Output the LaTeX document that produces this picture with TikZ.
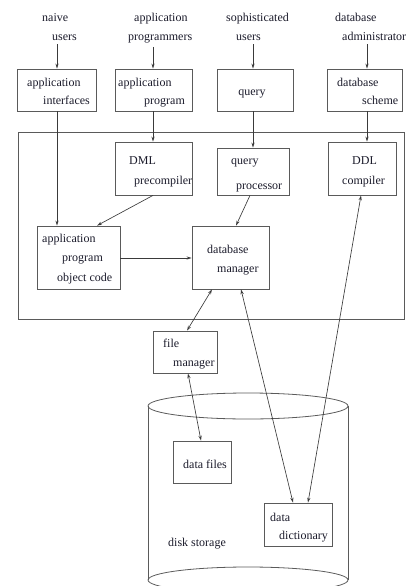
\documentclass[tikz,border=0pt]{standalone}
\usepackage{fontspec}
\setmainfont{Liberation Serif}
\usetikzlibrary{arrows.meta}
\definecolor{lin}{HTML}{5A5A5A}
\definecolor{con}{HTML}{3A3A3A}
\definecolor{txt}{HTML}{1A1A2A}
\begin{document}
\begin{tikzpicture}[x=1pt,y=-1pt,
  box/.style={draw=lin,line width=0.8pt,inner sep=0pt,rectangle},
  lbl/.style={anchor=base west,inner sep=0pt,text=txt,font=\fontsize{12}{14}\selectfont},
  arr/.style={draw=con,line width=0.65pt,-{Stealth[length=5pt,width=3.2pt,open]}},
  darr/.style={draw=con,line width=0.65pt,{Stealth[length=5pt,width=3.2pt,open]}-{Stealth[length=5pt,width=3.2pt,open]}}]
\useasboundingbox (0,0) rectangle (405,586);
\clip (0,0) rectangle (405,586);
% users
\node[lbl] (t1a) at (42,22) {naive};
\node[lbl] (t1b) at (52,41) {users};
\node[lbl] (t2a) at (134,22) {application};
\node[lbl] (t2b) at (128,41) {programmers};
\node[lbl] (t3a) at (226,22) {sophisticated};
\node[lbl] (t3b) at (236,41) {users};
\node[lbl] (t4a) at (335,22) {database};
\node[lbl] (t4b) at (342,41) {administrator};
% top boxes
\node[box,minimum width=79pt,minimum height=42pt] (ai) at (56.5,90) {};
\node[lbl] at (27,86) {application};
\node[lbl] at (43,104) {interfaces};
\node[box,minimum width=77pt,minimum height=42pt] (ap) at (153.5,90) {};
\node[lbl] at (118,86) {application};
\node[lbl] at (144,104) {program};
\node[box,minimum width=76pt,minimum height=42pt] (qu) at (255,90) {};
\node[lbl,anchor=base] at (252,95) {query};
\node[box,minimum width=75pt,minimum height=42pt] (ds) at (364.5,90) {};
\node[lbl] at (337,86) {database};
\node[lbl] at (362,104) {scheme};
% big rectangle
\node[box,minimum width=386pt,minimum height=187pt] (sys) at (211,225.5) {};
% second row
\node[box,minimum width=77pt,minimum height=53pt] (dml) at (153.5,168.5) {};
\node[lbl] at (129,164) {DML};
\node[lbl] at (134,184) {precompiler};
\node[box,minimum width=72pt,minimum height=47pt] (qp) at (253,171.5) {};
\node[lbl] at (231,164) {query};
\node[lbl] at (236,189) {processor};
\node[box,minimum width=68pt,minimum height=53pt] (ddl) at (362,168.5) {};
\node[lbl] at (352,164) {DDL};
\node[lbl] at (342,184) {compiler};
% third row
\node[box,minimum width=83pt,minimum height=63pt] (oc) at (78.5,257.5) {};
\node[lbl] at (42,242) {application};
\node[lbl] at (62,261) {program};
\node[lbl] at (57,281) {object code};
\node[box,minimum width=77pt,minimum height=63pt] (dbm) at (230.5,257.5) {};
\node[lbl] at (207,253) {database};
\node[lbl] at (217,272) {manager};
% file manager
\node[box,minimum width=64pt,minimum height=42pt] (fm) at (185,352) {};
\node[lbl] at (163,347) {file};
\node[lbl] at (173,366) {manager};
% cylinder
\draw[lin,line width=0.8pt] (148,406) -- (148,580);
\draw[lin,line width=0.8pt] (348,406) -- (348,580);
\draw[lin,line width=0.8pt] (248,406) ellipse [x radius=100,y radius=13];
\draw[lin,line width=0.8pt] (248,580) ellipse [x radius=100,y radius=13];
\node[box,minimum width=58pt,minimum height=42pt] (df) at (202,462) {};
\node[lbl] at (183,468) {data files};
\node[box,minimum width=68pt,minimum height=43pt] (dd) at (298,524.5) {};
\node[lbl] at (270,521) {data};
\node[lbl] at (279,539) {dictionary};
\node[lbl] (disk) at (168,546) {disk storage};
% x guides
\coordinate (x1) at (57,0);
\coordinate (x2) at (153,0);
\coordinate (x3) at (253,0);
\coordinate (x4) at (367,0);
% arrows from users
\draw[arr] (t1b.south -| x1) ++(0,3) -- (ai.north -| x1);
\draw[arr] (t2b.south -| x2) ++(0,3) -- (ap.north -| x2);
\draw[arr] (t3b.south -| x3) ++(0,3) -- (qu.north -| x3);
\draw[arr] (t4b.south -| x4) ++(0,3) -- (ds.north -| x4);
% arrows into system
\draw[arr] (ai.south -| x1) -- (oc.north -| x1);
\draw[arr] (ap.south -| x2) -- (dml.north -| x2);
\draw[arr] (qu.south -| x3) -- (qp.north -| x3);
\draw[arr] (ds.south -| x4) -- (ddl.north -| x4);
% internal
\coordinate (dmlb) at (153,195);
\coordinate (ocTop) at (97,226);
\draw[arr] (dml.south -| dmlb) -- (oc.north -| ocTop);
\coordinate (qpb) at (250,195);
\coordinate (dbmt) at (236,226);
\draw[arr] (qp.south -| qpb) -- (dbm.north -| dbmt);
\draw[arr] (oc.east) ++(0,0.5) -- (dbm.west |- 0,258);
% double arrows
\coordinate (p1) at (212,289);
\coordinate (p2) at (187,331);
\draw[darr] (dbm.south -| p1) -- (fm.north -| p2);
\coordinate (p3) at (188,373);
\coordinate (p4) at (201,441);
\draw[darr] (fm.south -| p3) -- (df.north -| p4);
\coordinate (p5) at (241,289);
\coordinate (p6) at (293,503);
\draw[darr] (dbm.south -| p5) -- (dd.north -| p6);
\coordinate (p7) at (361,195);
\coordinate (p8) at (308,503);
\draw[darr] (ddl.south -| p7) -- (dd.north -| p8);
\end{tikzpicture}
\end{document}
